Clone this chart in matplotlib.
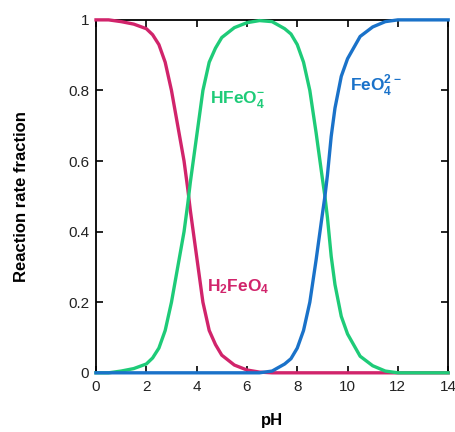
import numpy as np
import matplotlib
matplotlib.use("Agg")
import matplotlib.pyplot as plt
from matplotlib.ticker import FixedLocator, FixedFormatter


# DATA
ph = [0, 0.5, 1, 1.5, 2, 2.25, 2.5, 2.75, 3, 3.25, 3.5, 3.65, 3.75, 4, 4.25, 4.5,
      4.75, 5, 5.5, 6, 6.5, 7, 7.5, 7.75, 8, 8.25, 8.5, 8.75, 9, 9.1, 9.2, 9.35,
      9.5, 9.75, 10, 10.5, 11, 11.5, 12, 13, 14]

h2feo4 = [1.0, 1.0, 0.995, 0.988, 0.975, 0.958, 0.93, 0.88, 0.80, 0.70, 0.60, 0.52,
          0.46, 0.33, 0.20, 0.12, 0.08, 0.05, 0.022, 0.008, 0.002, 0, 0, 0, 0, 0,
          0, 0, 0, 0, 0, 0, 0, 0, 0, 0, 0, 0, 0, 0, 0]

hfeo4 = [0, 0, 0.005, 0.012, 0.025, 0.042, 0.07, 0.12, 0.20, 0.30, 0.40, 0.48,
         0.54, 0.67, 0.80, 0.88, 0.92, 0.95, 0.978, 0.992, 0.998, 0.995, 0.975,
         0.96, 0.93, 0.88, 0.80, 0.68, 0.55, 0.50, 0.44, 0.33, 0.25, 0.16, 0.11,
         0.047, 0.02, 0.005, 0, 0, 0]

feo4 = [0, 0, 0, 0, 0, 0, 0, 0, 0, 0, 0, 0, 0, 0, 0, 0, 0, 0, 0, 0, 0, 0.005,
        0.025, 0.04, 0.07, 0.12, 0.20, 0.32, 0.45, 0.50, 0.56, 0.67, 0.75, 0.84,
        0.89, 0.953, 0.98, 0.995, 1.0, 1.0, 1.0]

x_ticks = [0, 2, 4, 6, 8, 10, 12, 14]
y_ticks = [0, 0.2, 0.4, 0.6, 0.8, 1]
y_tick_labels = ["0", "0.2", "0.4", "0.6", "0.8", "1"]


# STYLE
plt.rcParams['font.family'] = ['Liberation Sans', 'DejaVu Sans']
plt.rcParams['mathtext.fontset'] = 'custom'
plt.rcParams['mathtext.rm'] = 'Liberation Sans:bold'
plt.rcParams['mathtext.bf'] = 'Liberation Sans:bold'

red = "#d1246b"
green = "#1ecb78"
blue = "#1a72c9"


# PLOT
fig = plt.figure(figsize=(4.55, 4.32), dpi=100)
ax = fig.add_axes([0.211, 0.137, 0.774, 0.817])

ax.plot(ph, h2feo4, color=red, lw=2.4, clip_on=False, zorder=3)
ax.plot(ph, hfeo4, color=green, lw=2.4, clip_on=False, zorder=4)
ax.plot(ph, feo4, color=blue, lw=2.4, clip_on=False, zorder=5)

ax.set_xlim(0, 14)
ax.set_ylim(0, 1)
ax.xaxis.set_major_locator(FixedLocator(x_ticks))
ax.yaxis.set_major_locator(FixedLocator(y_ticks))
ax.yaxis.set_major_formatter(FixedFormatter(y_tick_labels))
ax.tick_params(direction='in', length=5, width=1.2, top=True, right=True,
               labelsize=11, pad=5, labelcolor='#222222')
for s in ax.spines.values():
    s.set_linewidth(1.3)

ax.set_xlabel('pH', fontsize=12, fontweight='bold', va='center')
ax.xaxis.set_label_coords(0.5, -0.136)
ax.set_ylabel('Reaction rate fraction', fontsize=12, fontweight='bold')
ax.yaxis.set_label_coords(-0.19, 0.5)

# species labels
ax.text(4.55, 0.775, r'$\mathrm{HFeO}_{4}^{-}$', color=green, fontsize=12.5,
        va='center', ha='left')
ax.text(10.1, 0.815, r'$\mathrm{FeO}_{4}^{2-}$', color=blue, fontsize=12.5,
        va='center', ha='left')
ax.text(4.4, 0.245, r'$\mathrm{H_{2}FeO_{4}}$', color=red, fontsize=12.5,
        va='center', ha='left')

plt.savefig("out.png", dpi=100)
